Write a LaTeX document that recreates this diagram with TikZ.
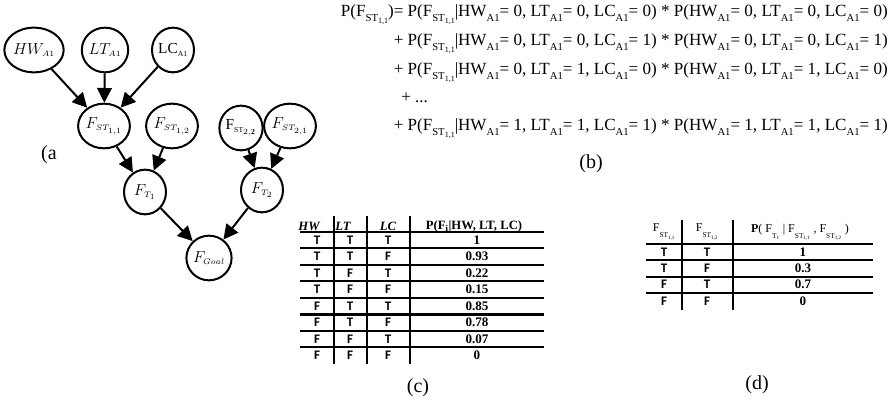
\documentclass[tikz,border=0pt]{standalone}
\usepackage{fontspec}
\setmainfont{Liberation Serif}
\newfontfamily\cellfont{Carlito}
\usetikzlibrary{arrows.meta,shapes.geometric,positioning}

\newcommand{\lowsub}[1]{\raisebox{-0.6ex}{\fontsize{8}{8}\selectfont #1}}
\newcommand{\stsub}[1]{\raisebox{-0.6ex}{\fontsize{8}{8}\selectfont ST\raisebox{-0.35ex}{\fontsize{6}{6}\selectfont #1}}}
\newcommand{\cond}[3]{HW\lowsub{A1}= #1, LT\lowsub{A1}= #2, LC\lowsub{A1}= #3}
\newcommand{\term}[3]{P(F\stsub{1,1}|\cond{#1}{#2}{#3}) * P(\cond{#1}{#2}{#3})}
\newcommand{\dsub}[1]{\raisebox{-1.1ex}{\fontsize{5.5}{6}\selectfont #1}}

\begin{document}
\begin{tikzpicture}[x=0.75pt,y=0.75pt,yscale=-1,xscale=1,
  bnode/.style={draw,ellipse,line width=1.5pt,minimum width=31.5pt,minimum height=33.5pt,inner sep=0pt,font=\fontsize{11.5}{12}\selectfont},
  link/.style={line width=1.5pt,-{Triangle[length=11pt,width=11pt]}},
  sublabel/.style={inner sep=0pt,font=\fontsize{15}{17}\selectfont},
  eqline/.style={anchor=base east,inner sep=0pt,font=\fontsize{12.8}{15}\selectfont},
  tabhead/.style={inner sep=0pt,font=\fontsize{9.5}{11}\selectfont\bfseries},
  tfcell/.style={inner sep=0pt,font=\fontsize{9.8}{11}\selectfont\cellfont\bfseries},
  numcell/.style={inner sep=0pt,font=\fontsize{9.8}{11}\selectfont\bfseries},
  tabrule/.style={line width=1.5pt},
  vrule/.style={line width=2.2pt}]
  \useasboundingbox (0,0) rectangle (896,402);

  %Shape: Bayes net nodes
  \node[bnode] (hw) at (34,50) {$HW_{\scriptscriptstyle A1}$};
  \node[bnode] (lt) at (105,50) {$LT_{\scriptscriptstyle A1}$};
  \node[bnode] (lc) at (173,50) {$\mathrm{LC}_{\scriptscriptstyle\mathrm{A1}}$};
  \node[bnode] (st11) at (104,126) {$F_{\scriptscriptstyle ST_{1,1}}$};
  \node[bnode] (st12) at (172,126) {$F_{\scriptscriptstyle ST_{1,2}}$};
  \node[bnode] (st22) at (241,128) {$\mathrm{F}_{\scriptscriptstyle\mathrm{ST}_{2,\mathbf{2}}}$};
  \node[bnode] (st21) at (290,126) {$F_{\scriptscriptstyle ST_{2,1}}$};
  \node[bnode] (t1) at (145,192) {$F_{\scriptscriptstyle T_1}$};
  \node[bnode] (t2) at (262,190) {$F_{\scriptscriptstyle T_2}$};
  \node[bnode] (goal) at (209,258) {$F_{\scriptscriptstyle Goal}$};

  %Straight Lines
  \draw[link] (hw) -- (st11);
  \draw[link] (lt) -- (st11);
  \draw[link] (lc) -- (st11);
  \draw[link] (st11) -- (t1);
  \draw[link] (st12) -- (t1);
  \draw[link] (st22) -- (t2);
  \draw[link] (st21) -- (t2);
  \draw[link] (t1) -- (goal);
  \draw[link] (t2) -- (goal);

  % Text Node
  \node[sublabel] (laba) at (49,155) {(a};

  % Text Node: formula (b)
  \node[eqline] (eq1) at (888,17) {P(F\stsub{1,1})= \term{0}{0}{0}};
  \node[eqline] (eq2) at (888,46) {+ \term{0}{0}{1}};
  \node[eqline] (eq3) at (888,75) {+ \term{0}{1}{0}};
  \node[eqline,anchor=base west] (eq4) at (401,103) {+ ...};
  \node[eqline] (eq5) at (888,131) {+ \term{1}{1}{1}};
  \node[sublabel] (labb) at (591,164) {(b)};

  %Table (c)
  \node[tabhead,font=\fontsize{9.5}{11}\selectfont\bfseries\itshape] (hhw) at (309,226) {HW};
  \node[tabhead,font=\fontsize{9.5}{11}\selectfont\bfseries\itshape] (hlt) at (343,226) {LT};
  \node[tabhead,font=\fontsize{9.5}{11}\selectfont\bfseries\itshape] (hlc) at (388,226) {LC};
  \node[tabhead] (hp) at (474,226) {P(F\textsubscript{i}|HW, LT, LC)};
  \foreach \hw/\lt/\lc/\pv [count=\r from 0] in {T/T/T/1,T/T/F/0.93,T/F/T/0.22,T/F/F/0.15,F/T/T/0.85,F/T/F/0.78,F/F/T/0.07,F/F/F/0}{
    \node[tfcell] (chw\r) at (317,{240+16.5*\r}) {\hw};
    \node[tfcell] (clt\r) at (350,{240+16.5*\r}) {\lt};
    \node[tfcell] (clc\r) at (388,{240+16.5*\r}) {\lc};
    \node[numcell] (cp\r) at (477,{240+16.5*\r}) {\pv};
  }
  \foreach \k in {0,...,7}
    \draw[tabrule] (300,{232+16.5*\k}) -- (544,{232+16.5*\k});
  \draw[tabrule,line width=2.2pt] (300,232) -- (544,232);
  \draw[tabrule,line width=2.2pt] (300,314.5) -- (544,314.5);
  \foreach \x in {334,367,410}
    \draw[vrule] (\x,216) -- (\x,364);
  \node[sublabel] (labc) at (418,388) {(c)};

  %Table (d)
  \node[inner sep=0pt,font=\fontsize{9}{10}\selectfont] (hst11) at (664,232) {F\dsub{ST\textsubscript{1,1}}};
  \node[inner sep=0pt,font=\fontsize{9}{10}\selectfont] (hst12) at (707,232) {F\dsub{ST\textsubscript{1,2}}};
  \node[inner sep=0pt,font=\fontsize{9}{10}\selectfont] (hpt) at (800,232) {\textbf{P}( F\dsub{T\textsubscript{1}} | F\dsub{ST\textsubscript{1,1}} , F\dsub{ST\textsubscript{1,2}} )};
  \foreach \a/\b/\pv [count=\r from 0] in {T/T/1,T/F/0.3,F/T/0.7,F/F/0}{
    \node[tfcell] (da\r) at (664,{252+16.3*\r}) {\a};
    \node[tfcell] (db\r) at (707,{252+16.3*\r}) {\b};
    \node[numcell] (dp\r) at (803,{252+16.3*\r}) {\pv};
  }
  \foreach \k in {0,...,3}
    \draw[tabrule] (646,{244+16.3*\k}) -- (873,{244+16.3*\k});
  \foreach \x in {682,733}
    \draw[vrule] (\x,220) -- (\x,310);
  \node[sublabel] (labd) at (757,385) {(d)};
\end{tikzpicture}
\end{document}
